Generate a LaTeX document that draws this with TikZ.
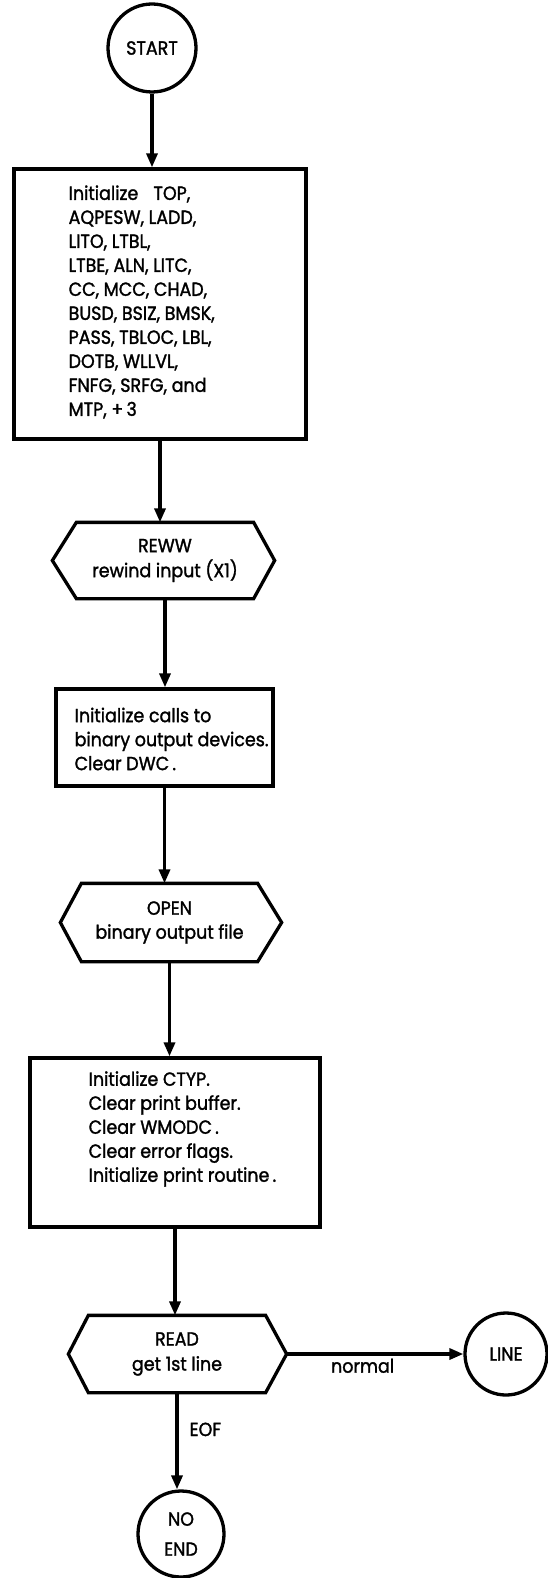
\documentclass[tikz,border=0pt]{standalone}
\usepackage{fontspec}
\setmainfont{Poppins}[FakeStretch=0.92,FakeBold=1.5]
\usetikzlibrary{arrows.meta,calc}
\newcommand\flowfont{\fontsize{19}{24}\selectfont}
\begin{document}
\begin{tikzpicture}[x=1pt,y=-1pt,
  line width=3.3pt,
  every node/.style={font=\flowfont},
  term/.style={circle, draw, inner sep=0pt, align=center, minimum size=#1},
  procbox/.style={rectangle, draw, inner sep=0pt},
  iobox/.style={rectangle, draw=none, inner sep=0pt, align=center},
  hexline/.style={line join=miter},
  txt/.style={anchor=west, align=left, inner sep=0pt},
  arr/.style={-{Triangle[length=14pt,width=11pt]}},
  lab/.style={inner sep=3pt}]
\useasboundingbox (0,0) rectangle (547,1578);

% start terminal
\node[term=88pt] (start) at (152,48) {START};

% first initialisation block
\node[procbox, minimum width=292pt, minimum height=270pt] (init) at (160,304) {};
\node[txt] (inittext) at (67,302) {Initialize\hspace{0.8em}TOP,\\
  AQPESW, LADD,\\ LITO, LTBL,\\ LTBE, ALN, LITC,\\ CC, MCC, CHAD,\\
  BUSD, BSIZ, BMSK,\\ PASS, TBLOC, LBL,\\ DOTB, WLLVL,\\
  FNFG, SRFG, and\\ MTP, +\,3};

% rewind input
\node[iobox, minimum width=174pt, minimum height=73pt] (rew) at (165,560.5)
  {REWW\\[1pt]rewind input (X1)};
\draw[hexline] (rew.north west) -- (rew.north east) -- ([xshift=21pt]rew.east)
  -- (rew.south east) -- (rew.south west) -- ([xshift=-24pt]rew.west) -- cycle;

% binary output calls
\node[procbox, minimum width=217pt, minimum height=97pt] (calls) at (164.5,737.5) {};
\node[txt] (callstext) at (73,739) {Initialize calls to\\
  binary output devices.\\ Clear DWC\,.};

% open binary output file
\node[iobox, minimum width=173pt, minimum height=75pt] (open) at (169.5,922.5)
  {OPEN\\binary output file};
\draw[hexline] (open.north west) -- (open.north east) -- ([xshift=24pt]open.east)
  -- (open.south east) -- (open.south west) -- ([xshift=-21pt]open.west) -- cycle;

% second initialisation block
\node[procbox, minimum width=290pt, minimum height=169pt] (clear) at (175,1142.5) {};
\node[txt] (cleartext) at (87,1129) {Initialize CTYP.\\ Clear print buffer.\\
  Clear WMODC\,.\\ Clear error flags.\\ Initialize print routine\,.};

% read first line
\node[iobox, minimum width=174pt, minimum height=74pt] (read) at (177,1354)
  {READ\\[1pt]get 1st line};
\coordinate (readtip) at ([xshift=21pt]read.east);
\draw[hexline] (read.north west) -- (read.north east) -- (readtip)
  -- (read.south east) -- (read.south west) -- ([xshift=-20pt]read.west) -- cycle;

% exits
\node[term=82pt] (line) at (506,1354) {LINE};
\node[term=86pt] (noend) at (181,1534) {NO\\[6pt]END};

% connectors
\draw[arr] (start.south) -- (start.south |- init.north);
\draw[arr] (init.south) -- (init.south |- rew.north);
\draw[arr] (rew.south) -- (rew.south |- calls.north);
\draw[arr] (calls.south) -- (calls.south |- open.north);
\draw[arr] (open.south) -- (open.south |- clear.north);
\draw[arr] (clear.south) -- (clear.south |- read.north);
\draw[arr] (readtip) -- node[lab, below, pos=0.43] {normal} (line.west);
\draw[arr] (read.south) -- node[lab, right, pos=0.38, xshift=8pt] {EOF} (read.south |- noend.north);
\end{tikzpicture}
\end{document}
